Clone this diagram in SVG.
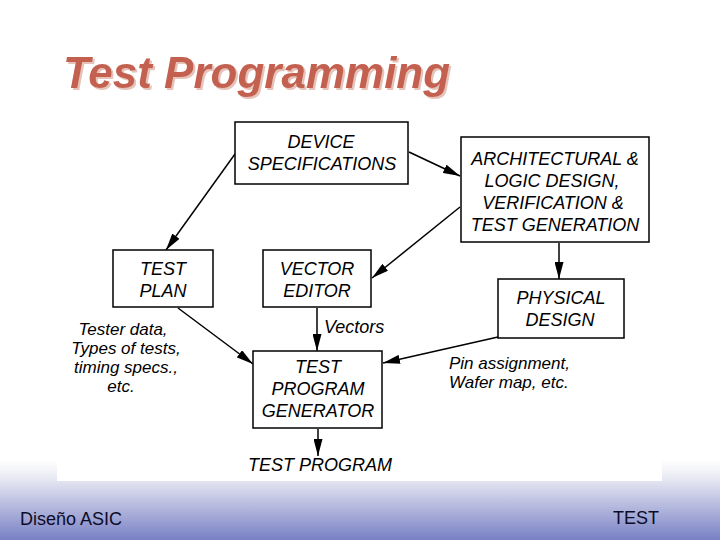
<svg xmlns="http://www.w3.org/2000/svg" width="720" height="540" viewBox="0 0 720 540">
<defs>
<linearGradient id="bg" x1="0" y1="0" x2="0" y2="1">
<stop offset="0" stop-color="#ffffff"/>
<stop offset="0.2" stop-color="#ecedf5"/>
<stop offset="1" stop-color="#7880c4"/>
</linearGradient>
<filter id="sh" x="-5%" y="-20%" width="115%" height="150%">
<feDropShadow dx="2" dy="2" stdDeviation="0.6" flood-color="#e6c2b8" flood-opacity="1"/>
</filter>
<marker id="ah" viewBox="0 0 17 9" refX="17" refY="4.5" markerWidth="17" markerHeight="9" markerUnits="userSpaceOnUse" orient="auto">
<path d="M0,0 L17,4.5 L0,9 Z" fill="#000"/>
</marker>
<style>
.box{fill:#fff;stroke:#000;stroke-width:1.5}
.t{font-family:"Liberation Sans",Arial,sans-serif;font-style:italic;font-size:18px;fill:#000;text-anchor:middle}
.l{font-family:"Liberation Sans",Arial,sans-serif;font-style:italic;font-size:17px;fill:#000}
.lc{font-family:"Liberation Sans",Arial,sans-serif;font-style:italic;font-size:17px;fill:#000;text-anchor:middle}
.c{stroke:#000;stroke-width:1.5;fill:none;marker-end:url(#ah)}
.f{font-family:"Liberation Sans",Arial,sans-serif;font-size:18px;fill:#0c0c28}
</style>
</defs>
<rect x="0" y="0" width="720" height="540" fill="#fff"/>
<rect x="0" y="460" width="720" height="80" fill="url(#bg)"/>
<rect x="57" y="108" width="605" height="373" fill="#fff"/>
<g id="title">
<text x="63" y="88" font-family="'Liberation Sans',Arial,sans-serif" font-weight="bold" font-style="italic" font-size="44" fill="#c3604f" filter="url(#sh)">Test Programming</text>
</g>
<g id="connectors">
<line class="c" x1="235" y1="154" x2="166" y2="250"/>
<line class="c" x1="409" y1="152" x2="460" y2="176"/>
<line class="c" x1="460" y1="207" x2="372" y2="278"/>
<line class="c" x1="559" y1="243" x2="559" y2="279"/>
<line class="c" x1="178" y1="308" x2="253" y2="364"/>
<line class="c" x1="317" y1="308" x2="317" y2="351"/>
<line class="c" x1="498" y1="337" x2="383" y2="363"/>
<line class="c" x1="318" y1="429" x2="318" y2="456"/>
</g>
<g id="device-specifications">
<rect class="box" x="235" y="122" width="173" height="62"/>
<text class="t" x="321" y="148">DEVICE</text>
<text class="t" x="322" y="170">SPECIFICATIONS</text>
</g>
<g id="architectural">
<rect class="box" x="461" y="137" width="188" height="105"/>
<text class="t" x="555" y="165">ARCHITECTURAL &amp;</text>
<text class="t" x="552" y="187">LOGIC DESIGN,</text>
<text class="t" x="553" y="209">VERIFICATION &amp;</text>
<text class="t" x="555" y="231">TEST GENERATION</text>
</g>
<g id="test-plan">
<rect class="box" x="113" y="250" width="100" height="57"/>
<text class="t" x="163" y="275">TEST</text>
<text class="t" x="163" y="297">PLAN</text>
</g>
<g id="vector-editor">
<rect class="box" x="263" y="250" width="108" height="57"/>
<text class="t" x="317" y="275">VECTOR</text>
<text class="t" x="317" y="297">EDITOR</text>
</g>
<g id="physical-design">
<rect class="box" x="498" y="279" width="126" height="59"/>
<text class="t" x="561" y="304">PHYSICAL</text>
<text class="t" x="560" y="326">DESIGN</text>
</g>
<g id="test-program-generator">
<rect class="box" x="253" y="351" width="129" height="77"/>
<text class="t" x="318" y="373">TEST</text>
<text class="t" x="318" y="395">PROGRAM</text>
<text class="t" x="318" y="417">GENERATOR</text>
</g>
<g id="labels">
<text class="t" x="324" y="333" text-anchor="start" style="text-anchor:start">Vectors</text>
<text class="lc" x="123" y="335">Tester data,</text>
<text class="lc" x="126" y="354">Types of tests,</text>
<text class="lc" x="126" y="373">timing specs.,</text>
<text class="lc" x="121" y="392">etc.</text>
<text class="l" x="449" y="369">Pin assignment,</text>
<text class="l" x="449" y="388">Wafer map, etc.</text>
<text class="t" x="320" y="471">TEST PROGRAM</text>
</g>
<g id="footer">
<text class="f" x="20" y="525">Diseño ASIC</text>
<text class="f" x="613" y="524">TEST</text>
</g>
</svg>
